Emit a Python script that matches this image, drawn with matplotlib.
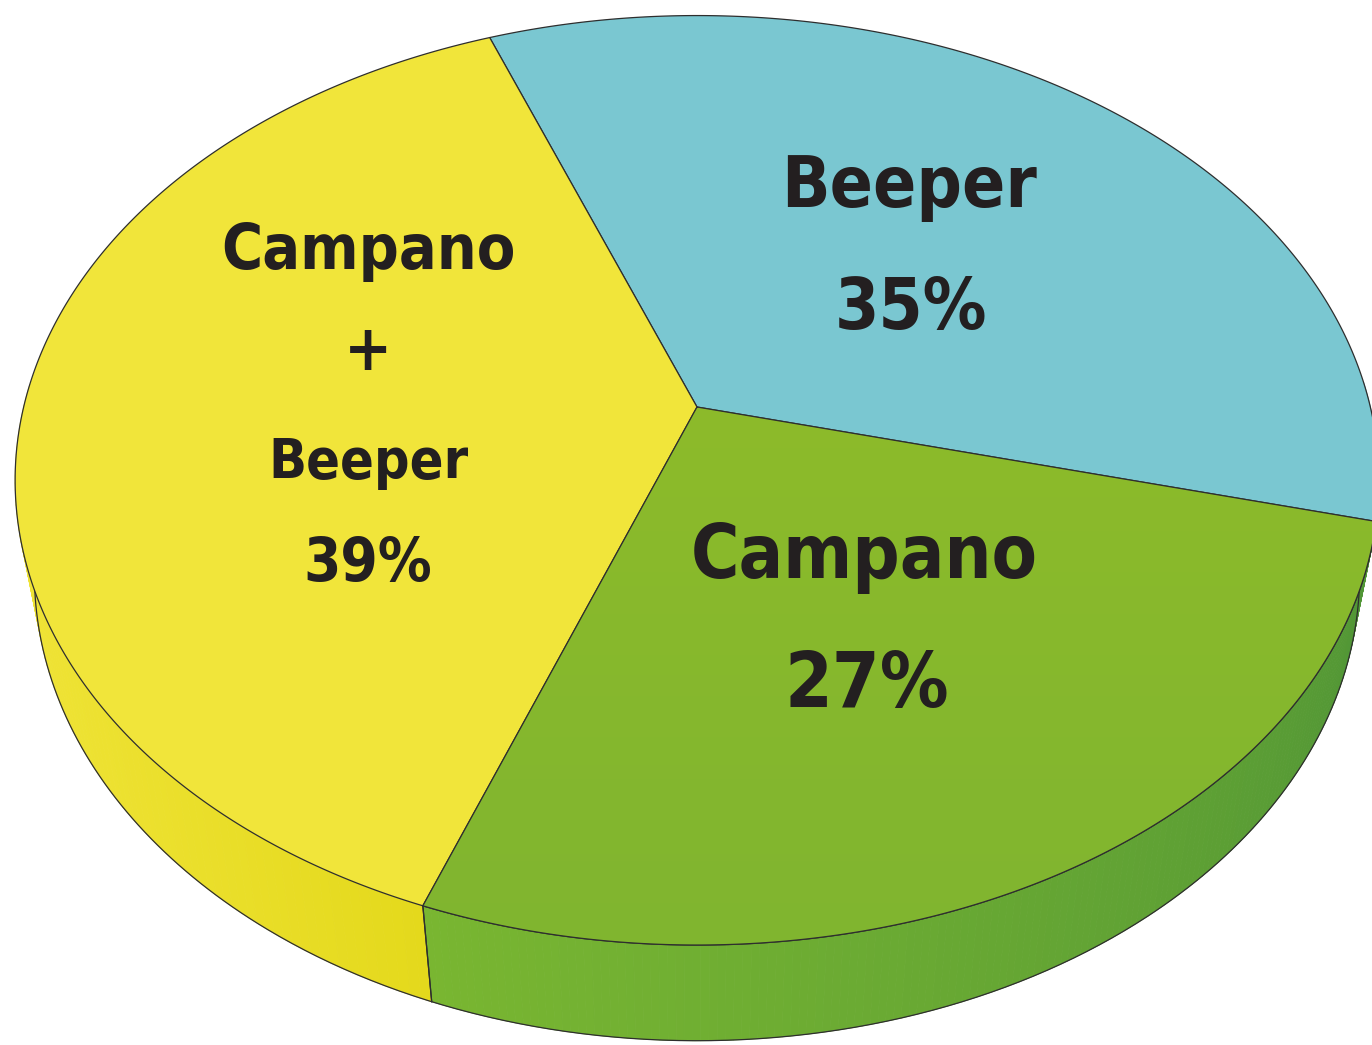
import numpy as np
import matplotlib.pyplot as plt
from matplotlib.patches import Polygon
from matplotlib.colors import to_rgb, LinearSegmentedColormap
from matplotlib import font_manager

# ------------------ DATOS ------------------
labels = ['Campano', 'Beeper', 'Campano\n+\nBeeper']
values = [27, 35, 39]
top_colors = ['#86B92C', '#7AC7D1', '#F1E53A']
# side shading: (color at start of wedge, color at end of wedge)
side_colors = [('#79B631', '#4F9436'), ('#5CA1B0', '#5CA1B0'), ('#F1E53A', '#E4D91C')]
start_angle = 249.7  # degrees, where the first wedge starts (counter-clockwise)

# ------------------ FUENTE ------------------
def pick_font():
    fonts = [f for f in font_manager.fontManager.ttflist
             if f.style == 'normal' and f.weight in (600, 700, 'bold', 'semibold')
             and 'Sans' in f.name and 'Mono' not in f.name]
    for st in ['extra-condensed', 'condensed', 'semi-condensed']:
        for f in fonts:
            if f.stretch == st and f.name.startswith('Noto Sans') and len(f.name.split()) <= 3:
                return f
        for f in fonts:
            if f.stretch == st:
                return f
    return None

font = pick_font()

# ------------------ PROYECCIÓN 3D ------------------
cx, cy = 697, 407     # screen position of the pie centre
scale = 3158.0
dist = 4.69
tilt = np.radians(42.3)
thick = 0.198

def project(t, z=0.0):
    X, Y = np.cos(t), np.sin(t)
    depth = dist + Y * np.cos(tilt) - z * np.sin(tilt)
    sx = X / depth
    sy = (Y * np.sin(tilt) + z * np.cos(tilt)) / depth
    return cx + scale * sx, cy - scale * sy

def side_visible(t):
    # outward normal of the rim facing the camera
    return 1 + dist * np.cos(tilt) * np.sin(t) < 0

def mix(c1, c2, f):
    a, b = np.array(to_rgb(c1)), np.array(to_rgb(c2))
    return tuple(a + (b - a) * f)

fig = plt.figure(figsize=(13.72, 10.45), dpi=100)
ax = fig.add_axes([0, 0, 1, 1])
ax.set_xlim(0, 1372)
ax.set_ylim(1045, 0)
ax.axis('off')

edge = '#2E2E2E'
total = sum(values)
bounds = [np.radians(start_angle)]
for v in values:
    bounds.append(bounds[-1] + np.radians(v / total * 360))

# ------------------ LATERALES ------------------
# collect the rim quads, then paint them far-to-near
quads = []
for i in range(len(values)):
    a0, a1 = bounds[i], bounds[i + 1]
    ts = np.linspace(a0, a1, 160)
    c_start, c_end = side_colors[i]
    for k in range(len(ts) - 1):
        t0, t1 = ts[k], ts[k + 1]
        tm = (t0 + t1) / 2
        if np.sin(tm) > 0.05:
            continue
        f = (k / (len(ts) - 2))
        if i == 2:
            f = f ** 4
        col = mix(c_start, c_end, f)
        x0, y0 = project(t0)
        x1, y1 = project(t1)
        x2, y2 = project(t1, -thick)
        x3, y3 = project(t0, -thick)
        quads.append((np.sin(tm), [[x0, y0], [x1, y1], [x2, y2], [x3, y3]], col))

quads.sort(key=lambda q: -q[0])
for _, pts, col in quads:
    ax.add_patch(Polygon(pts, closed=True, facecolor=col, edgecolor=col,
                         lw=0.6, zorder=1))

# bottom rim and vertical seam lines
tb = np.linspace(np.radians(180), np.radians(360), 600)
bx, by = project(tb, -thick)
ax.plot(bx, by, color=edge, lw=0.9, zorder=2)
for b in bounds:
    if side_visible(b):
        xa, ya = project(b)
        xb, yb = project(b, -thick)
        ax.plot([xa, xb], [ya, yb], color=edge, lw=0.9, zorder=2)

# ------------------ CARA SUPERIOR ------------------
grad = np.linspace(0, 1, 256).reshape(-1, 1)
for i in range(len(values)):
    ts = np.linspace(bounds[i], bounds[i + 1], 300)
    px, py = project(ts)
    pts = np.vstack([[cx, cy], np.column_stack([px, py])])
    wedge = Polygon(pts, closed=True, facecolor=top_colors[i],
                    edgecolor=edge, lw=0.9, joinstyle='round', zorder=3)
    ax.add_patch(wedge)
    if i == 0:
        # soft vertical shading on the green face
        cmap = LinearSegmentedColormap.from_list('g', ['#8DBB2A', '#80B530'])
        im = ax.imshow(grad, cmap=cmap, extent=[px.min(), px.max(), py.max(), cy],
                       aspect='auto', zorder=3.5)
        im.set_clip_path(wedge)
        ax.add_patch(Polygon(pts, closed=True, facecolor='none',
                             edgecolor=edge, lw=0.9, zorder=3.6))

# ------------------ ETIQUETAS ------------------
if font is not None:
    txt = dict(fontproperties=font_manager.FontProperties(fname=font.fname))
else:
    txt = dict(family='DejaVu Sans', weight='bold')
txt.update(color='#231F20', ha='center', va='center', zorder=5)

def label(x, y, s, size):
    t = ax.text(x, y, s, **txt)
    t.set_fontsize(size)

label(864, 557, labels[0], 53)
label(867, 686, f'{values[0]}%', 55)
label(909, 187, labels[1], 51)
label(911, 310, f'{values[1]}%', 51)
label(368, 252, 'Campano', 45)
label(368, 352, '+', 46)
label(368, 463, 'Beeper', 40)
label(368, 565, f'{values[2]}%', 43)

fig.savefig('out.png', dpi=100)
